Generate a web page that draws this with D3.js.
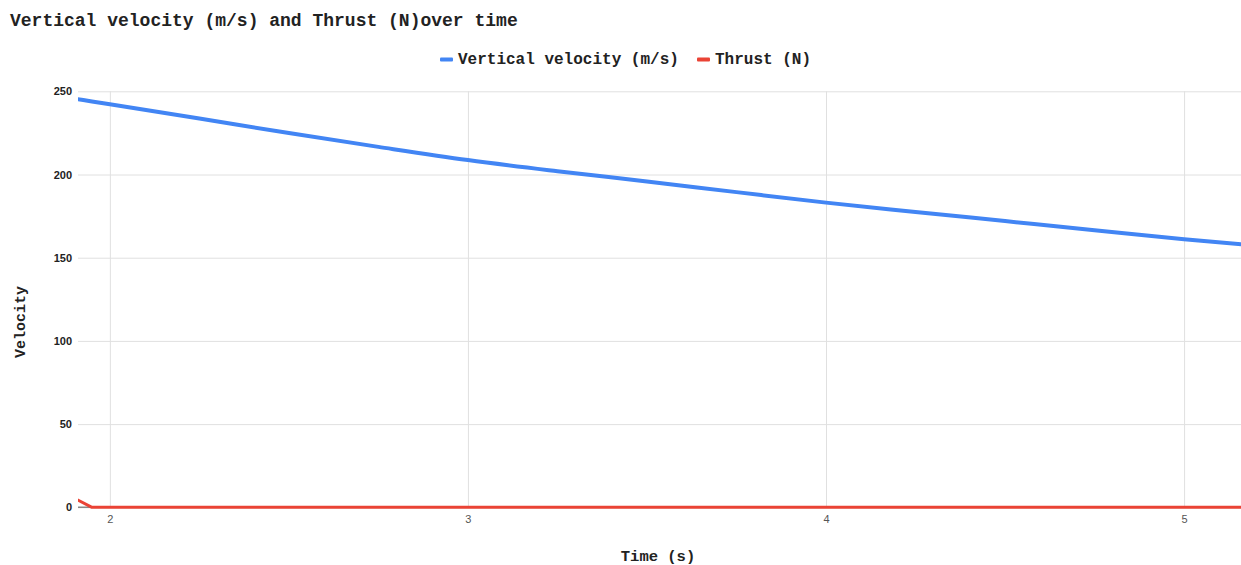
<!DOCTYPE html>
<html>
<head>
<meta charset="utf-8">
<script src="https://cdn.jsdelivr.net/npm/d3@7"></script>
<style>
  html, body { margin: 0; padding: 0; background: #fff; }
  svg { display: block; }
</style>
</head>
<body>
<svg id="chart" width="1241" height="565"></svg>
<script>
// Time samples (s)
const times = [1.9, 1.95, 2.0, 2.25, 2.5, 2.75, 3.0, 3.25, 3.5, 3.75, 4.0, 4.25, 4.5, 4.75, 5.0, 5.2];
// Vertical velocity (m/s)
const velocity = [245.6, 243.9, 242.2, 233.6, 224.9, 216.6, 208.7, 202.0, 195.8, 189.4, 183.1, 177.5, 172.0, 166.5, 161.1, 157.3];
// Thrust (N)
const thrust = [5.5, 0, 0, 0, 0, 0, 0, 0, 0, 0, 0, 0, 0, 0, 0, 0];

const seriesNames = ["Vertical velocity (m/s)", "Thrust (N)"];
const seriesColors = ["#4285f4", "#ea4335"];
const yTicks = [0, 50, 100, 150, 200, 250];
const xTicks = [2, 3, 4, 5];

const svg = d3.select("#chart");
const mono = "'Liberation Mono', 'Courier New', monospace";
const sans = "'Liberation Sans', Arial, sans-serif";

const plot = { left: 78, right: 1241, top: 91.3, bottom: 507.3 };

const x = d3.scaleLinear().domain([1.911, 5.159]).range([plot.left, plot.right]);
const y = d3.scaleLinear().domain([0, 250]).range([plot.bottom, plot.top]);

// Title
svg.append("text")
  .attr("x", 10).attr("y", 26)
  .attr("font-family", mono).attr("font-weight", "bold").attr("font-size", 18)
  .attr("fill", "#222")
  .text("Vertical velocity (m/s) and Thrust (N)over time");

// Legend
const legendItems = [
  { name: seriesNames[0], color: seriesColors[0], x: 440 },
  { name: seriesNames[1], color: seriesColors[1], x: 697 }
];
legendItems.forEach(d => {
  svg.append("rect").attr("x", d.x).attr("y", 57.5).attr("width", 13).attr("height", 4)
    .attr("rx", 1).attr("fill", d.color);
  svg.append("text").attr("x", d.x + 18).attr("y", 64)
    .attr("font-family", mono).attr("font-weight", "bold").attr("font-size", 16)
    .attr("fill", "#222").text(d.name);
});

// Horizontal gridlines + y labels
const yAxis = d3.axisLeft(y).tickValues(yTicks).tickSize(-(plot.right - plot.left)).tickPadding(6);
const gy = svg.append("g").attr("transform", `translate(${plot.left},0)`).call(yAxis);
gy.select(".domain").remove();
gy.selectAll(".tick line").attr("stroke", "#e0e0e0").attr("stroke-width", 1);
gy.selectAll(".tick text")
  .attr("font-family", sans).attr("font-weight", "bold").attr("font-size", 11).attr("fill", "#222");

// Vertical gridlines + x labels
const xAxis = d3.axisBottom(x).tickValues(xTicks).tickSize(-(plot.bottom - plot.top)).tickPadding(8)
  .tickFormat(d3.format("d"));
const gx = svg.append("g").attr("transform", `translate(0,${plot.bottom})`).call(xAxis);
gx.select(".domain").remove();
gx.selectAll(".tick line").attr("stroke", "#e0e0e0").attr("stroke-width", 1);
gx.selectAll(".tick text")
  .attr("font-family", sans).attr("font-size", 11).attr("fill", "#555");

// Zero baseline
svg.append("line")
  .attr("x1", plot.left).attr("x2", plot.right)
  .attr("y1", y(0)).attr("y2", y(0))
  .attr("stroke", "#888").attr("stroke-width", 1.5);

// Axis titles
svg.append("text")
  .attr("x", 658).attr("y", 561).attr("text-anchor", "middle")
  .attr("font-family", mono).attr("font-weight", "bold").attr("font-size", 15.5)
  .attr("fill", "#222").text("Time (s)");
svg.append("text")
  .attr("transform", "translate(25,322) rotate(-90)")
  .attr("text-anchor", "middle")
  .attr("font-family", mono).attr("font-weight", "bold").attr("font-size", 15)
  .attr("fill", "#222").text("Velocity");

// Series lines, clipped to the plot area
svg.append("clipPath").attr("id", "plot-clip")
  .append("rect").attr("x", plot.left).attr("y", 0)
  .attr("width", plot.right - plot.left).attr("height", plot.bottom + 4);

const lines = svg.append("g").attr("clip-path", "url(#plot-clip)");
const curves = [d3.curveMonotoneX, d3.curveLinear];

[velocity, thrust].forEach((vals, i) => {
  const lineGen = d3.line().x(d => x(d[0])).y(d => y(d[1])).curve(curves[i]);
  lines.append("path")
    .datum(times.map((t, j) => [t, vals[j]]))
    .attr("fill", "none")
    .attr("stroke", seriesColors[i])
    .attr("stroke-width", i === 0 ? 4 : 3)
    .attr("stroke-linejoin", "round")
    .attr("d", lineGen);
});
</script>
</body>
</html>
